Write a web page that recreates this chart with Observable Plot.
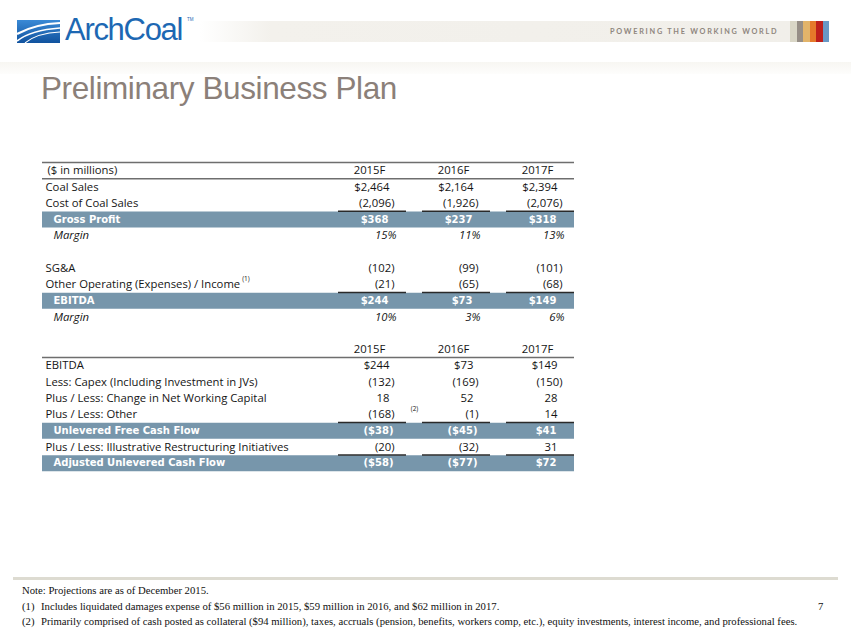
<!DOCTYPE html>
<html>
<head>
<meta charset="utf-8">
<script src="https://cdn.jsdelivr.net/npm/d3@7"></script>
<script src="https://cdn.jsdelivr.net/npm/@observablehq/plot@0.6"></script>
<style>
  html, body { margin: 0; padding: 0; background: #fff; }
  #slide { position: relative; width: 851px; height: 635px; overflow: hidden; background: #fff; }
  .abs { position: absolute; white-space: nowrap; }
  #plot { position: absolute; left: 0; top: 0; }
  .note { font-family: "Liberation Serif", "Times New Roman", serif; font-size: 10.7px; color: #111; line-height: 12px; }
</style>
</head>
<body>
<div id="slide">
  <!-- header strip -->
  <div class="abs" style="left:200px;top:21px;width:590px;height:21px;background:linear-gradient(to right,#ffffff 0%,#f3f1ec 12%,#f1efea 100%);"></div>
  <div class="abs" id="tagline" style="left:610px;top:27px;font-family:'Lato',sans-serif;font-size:7.3px;font-weight:700;letter-spacing:1.75px;color:#8f867e;line-height:10px;">POWERING THE WORKING WORLD</div>
  <div class="abs" style="left:790px;top:21px;height:21px;display:flex;">
    <div style="width:6.5px;background:#d9d6c6"></div>
    <div style="width:6.5px;background:#968e86"></div>
    <div style="width:6.5px;background:#e2b46a"></div>
    <div style="width:6.5px;background:#e5792a"></div>
    <div style="width:6.5px;background:#be1f1c"></div>
    <div style="width:6.5px;background:#6898c6"></div>
  </div>
  <!-- logo -->
  <svg class="abs" style="left:17px;top:20px" width="43" height="23" viewBox="0 0 43 23">
    <defs>
      <linearGradient id="lg" x1="0" y1="0" x2="0" y2="1">
        <stop offset="0" stop-color="#3a8ad6"/>
        <stop offset="1" stop-color="#10529e"/>
      </linearGradient>
    </defs>
    <rect x="0" y="0" width="43" height="23" fill="url(#lg)"/>
    <path d="M0,14 Q18,4 43,3" stroke="#fff" stroke-width="2.2" fill="none"/>
    <path d="M0,21 Q14,10 43,8" stroke="#fff" stroke-width="1.6" fill="none"/>
    <path d="M8,23 Q20,13 43,12" stroke="#fff" stroke-width="1.1" fill="none"/>
  </svg>
  <div class="abs" style="left:65px;top:12px;font-family:'Liberation Sans',Arial,sans-serif;font-size:31px;letter-spacing:-1.3px;color:#1d68b3;line-height:35px;">ArchCoal</div>
  <div class="abs" style="left:187px;top:17px;font-family:'Liberation Sans',Arial,sans-serif;font-size:4.5px;color:#1d68b3;line-height:5px;">TM</div>
  <!-- title strip -->
  <div class="abs" style="left:0;top:62px;width:851px;height:12px;background:linear-gradient(to bottom,#f7f6f2,#fdfdfc);"></div>
  <div class="abs" style="left:41px;top:72px;font-family:'Liberation Sans',Arial,sans-serif;font-size:31.5px;letter-spacing:-0.4px;color:#8b8079;line-height:32px;">Preliminary Business Plan</div>
  <div id="plot"></div>
  <!-- footer -->
  <div class="abs" style="left:13px;top:577px;width:825px;height:3px;background:#dddbd1;"></div>
  <div class="abs note" style="left:22px;top:584px;">Note: Projections are as of December 2015.</div>
  <div class="abs note" style="left:22px;top:600px;">(1)</div>
  <div class="abs note" style="left:41px;top:600px;">Includes liquidated damages expense of $56 million in 2015, $59 million in 2016, and $62 million in 2017.</div>
  <div class="abs note" style="left:22px;top:615px;">(2)</div>
  <div class="abs note" style="left:41px;top:615px;">Primarily comprised of cash posted as collateral ($94 million), taxes, accruals (pension, benefits, workers comp, etc.), equity investments, interest income, and professional fees.</div>
  <div class="abs note" style="left:818px;top:600px;">7</div>
</div>
<script>
// ---- data ----
const years = ["2015F", "2016F", "2017F"];
const coalSales = [2464, 2164, 2394];
const costOfCoalSales = [-2096, -1926, -2076];
const grossProfit = [368, 237, 318];
const grossMargin = [15, 11, 13];
const sga = [-102, -99, -101];
const otherOperating = [-21, -65, -68];
const ebitda = [244, 73, 149];
const ebitdaMargin = [10, 3, 6];
const capex = [-132, -169, -150];
const workingCapital = [18, 52, 28];
const otherCash = [-168, -1, 14];
const unleveredFCF = [-38, -45, 41];
const restructuring = [-20, -32, 31];
const adjustedUCF = [-58, -77, 72];

// ---- table structure ----
const rows = [
  {kind: "head", label: "($ in millions)"},
  {kind: "line", label: "Coal Sales", values: coalSales, money: true},
  {kind: "line", label: "Cost of Coal Sales", values: costOfCoalSales},
  {kind: "band", label: "Gross Profit", values: grossProfit, money: true},
  {kind: "pct", label: "Margin", values: grossMargin},
  {kind: "blank", label: ""},
  {kind: "line", label: "SG&A", values: sga},
  {kind: "line", label: "Other Operating (Expenses) / Income", values: otherOperating, sup: "(1)"},
  {kind: "band", label: "EBITDA", values: ebitda, money: true},
  {kind: "pct", label: "Margin", values: ebitdaMargin},
  {kind: "blank", label: ""},
  {kind: "head", label: ""},
  {kind: "line", label: "EBITDA", values: ebitda, money: true},
  {kind: "line", label: "Less: Capex (Including Investment in JVs)", values: capex},
  {kind: "line", label: "Plus / Less: Change in Net Working Capital", values: workingCapital},
  {kind: "line", label: "Plus / Less: Other", values: otherCash, note: "(2)"},
  {kind: "band", label: "Unlevered Free Cash Flow", values: unleveredFCF, money: true},
  {kind: "line", label: "Plus / Less: Illustrative Restructuring Initiatives", values: restructuring},
  {kind: "band", label: "Adjusted Unlevered Cash Flow", values: adjustedUCF, money: true}
].map((d, i) => ({...d, i}));

const n = d3.format(",");
function fmt(r, v) {
  if (r.kind === "pct") return v + "%";
  const s = n(Math.abs(v));
  if (r.money) return v < 0 ? `($${s})` : `$${s}`;
  return v < 0 ? `(${s})` : s;
}
const cells = rows.filter(r => r.values).flatMap(r => r.values.map((v, j) => ({
  i: r.i, kind: r.kind, year: years[j], v, text: fmt(r, v)
})));
const heads = rows.filter(r => r.kind === "head");
const headCells = heads.flatMap(r => years.map(y => ({i: r.i, year: y})));
const bands = rows.filter(r => r.kind === "band");
const underlines = bands.flatMap(r => years.map(y => ({i: r.i, year: y})));
const headRules = [0, ...heads.map(r => r.i + 1)];
const notes = rows.filter(r => r.note).map(r => ({i: r.i, year: years[0], note: r.note}));
const sups = rows.filter(r => r.sup);

const F = "'Open Sans', Lato, sans-serif";
const FB = "'DejaVu Sans', Verdana, sans-serif";
const FS = 11.3;
const bandFill = "#7796ab";
const ink = "#151515";
const mid = d => d.i + 0.5;

// measure label width for the superscript placement
const ctx = document.createElement("canvas").getContext("2d");
ctx.font = `${FS}px 'Open Sans', Lato, sans-serif`;

const chart = Plot.plot({
  width: 851,
  height: 635,
  marginLeft: 42,
  marginRight: 277,
  marginTop: 0,
  marginBottom: 0,
  style: {background: "transparent", overflow: "visible"},
  x: {type: "band", domain: years, range: [338, 574], paddingInner: 16 / 84, paddingOuter: 0, axis: null},
  y: {type: "linear", domain: [0, rows.length], range: [162, 162 + rows.length * 16.25], axis: null},
  marks: [
    Plot.ruleY(bands, {y: mid, stroke: bandFill, strokeWidth: 16}),
    Plot.ruleY(headRules, {y: d => d, stroke: "#6e6e6e", strokeWidth: 1.3}),
    Plot.tickY(underlines, {x: "year", y: "i", stroke: "#2a2a2a", strokeWidth: 1.5}),
    // labels
    Plot.text(rows.filter(r => r.kind === "line"), {y: mid, text: "label", frameAnchor: "left", textAnchor: "start", dx: 3, fontFamily: F, fontSize: FS, fill: ink}),
    Plot.text(rows.filter(r => r.kind === "head" && r.label), {y: mid, text: "label", frameAnchor: "left", textAnchor: "start", dx: 5, fontFamily: F, fontSize: FS, fill: ink}),
    Plot.text(rows.filter(r => r.kind === "pct"), {y: mid, text: "label", frameAnchor: "left", textAnchor: "start", dx: 11, fontFamily: F, fontSize: FS, fontStyle: "italic", fill: ink}),
    Plot.text(bands, {y: mid, text: "label", frameAnchor: "left", textAnchor: "start", dx: 11, fontFamily: FB, fontSize: 10, fontWeight: "bold", fill: "#fff", letterSpacing: 0.2}),
    ...sups.map(r => Plot.text([r], {y: mid, text: "sup", frameAnchor: "left", textAnchor: "start", dx: 3 + ctx.measureText(r.label).width + 2, dy: -5, fontFamily: F, fontSize: 6.5, fill: ink})),
    // column headers
    Plot.text(headCells, {x: "year", y: mid, text: "year", dx: -3, fontFamily: F, fontSize: FS, fill: ink}),
    // values
    Plot.text(cells.filter(d => d.kind === "line" && d.v < 0), {x: "year", y: mid, text: "text", textAnchor: "end", dx: 22, fontFamily: F, fontSize: FS, fill: ink}),
    Plot.text(cells.filter(d => d.kind === "line" && d.v >= 0), {x: "year", y: mid, text: "text", textAnchor: "end", dx: 17, fontFamily: F, fontSize: FS, fill: ink}),
    Plot.text(cells.filter(d => d.kind === "pct"), {x: "year", y: mid, text: "text", textAnchor: "end", dx: 24, fontFamily: F, fontSize: FS, fontStyle: "italic", fill: ink}),
    Plot.text(cells.filter(d => d.kind === "band" && d.v < 0), {x: "year", y: mid, text: "text", textAnchor: "end", dx: 21, fontFamily: FB, fontSize: 10, fontWeight: "bold", fill: "#fff", letterSpacing: 0.3}),
    Plot.text(cells.filter(d => d.kind === "band" && d.v >= 0), {x: "year", y: mid, text: "text", textAnchor: "end", dx: 16, fontFamily: FB, fontSize: 10, fontWeight: "bold", fill: "#fff", letterSpacing: 0.3}),
    // footnote marker
    Plot.text(notes, {x: "year", y: mid, text: "note", dx: 42, dy: -5, fontFamily: F, fontSize: 6.5, fill: ink})
  ]
});
document.getElementById("plot").appendChild(chart);
</script>
</body>
</html>
